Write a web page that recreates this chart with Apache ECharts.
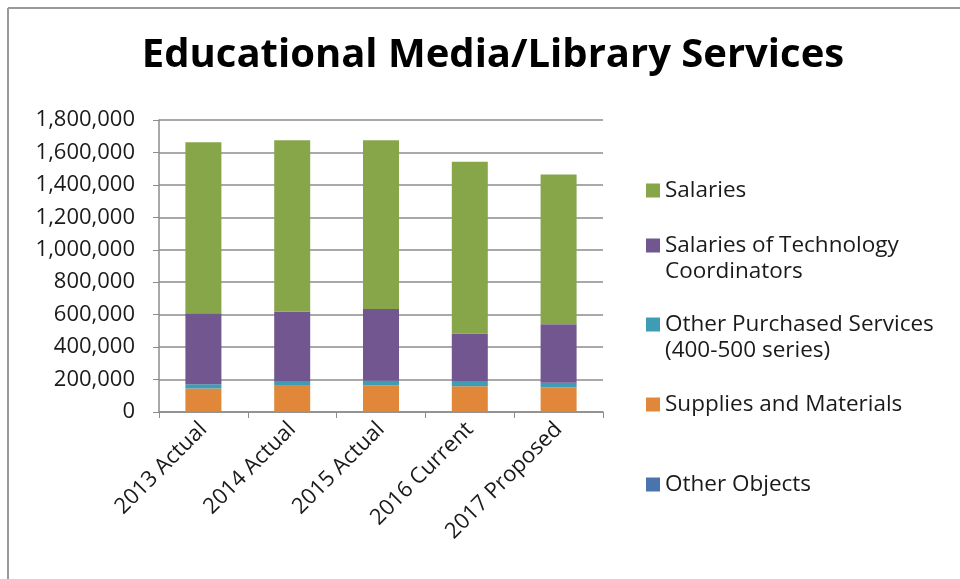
<!DOCTYPE html>
<html><head><meta charset="utf-8">
<script src="https://cdn.jsdelivr.net/npm/echarts@6/dist/echarts.min.js"></script>
<style>html,body{margin:0;padding:0;background:#fff}#c{width:960px;height:579px}</style>
</head><body><div id="c"></div>
<script>
const categories = ['2013 Actual','2014 Actual','2015 Actual','2016 Current','2017 Proposed'];
const otherObjects = [1500, 1500, 1500, 1500, 1500];
const supplies = [144000, 160000, 164000, 158000, 150000];
const otherPurchased = [26000, 25000, 27000, 31000, 29000];
const techCoord = [437000, 431000, 442000, 294000, 360000];
const salaries = [1055000, 1057000, 1040000, 1058000, 924000];
const yTicks = {min: 0, max: 1800000, interval: 200000};

const FONT = 'Open Sans';
const seriesDefs = [
  {name: 'Other Objects', data: otherObjects, color: '#4A74AD'},
  {name: 'Supplies and Materials', data: supplies, color: '#E0873A'},
  {name: 'Other Purchased Services (400-500 series)', data: otherPurchased, color: '#3F9CB5'},
  {name: 'Salaries of Technology Coordinators', data: techCoord, color: '#71568F'},
  {name: 'Salaries', data: salaries, color: '#87A64A'}
];
const legendFirst = {
  'Salaries': 'Salaries',
  'Salaries of Technology Coordinators': 'Salaries of Technology',
  'Other Purchased Services (400-500 series)': 'Other Purchased Services',
  'Supplies and Materials': 'Supplies and Materials',
  'Other Objects': 'Other Objects'
};
const legendTops = {'Salaries':187,'Salaries of Technology Coordinators':242,'Other Purchased Services (400-500 series)':321,'Supplies and Materials':401,'Other Objects':481};
const LFS = 22.5;
const legendText = {fontFamily: FONT, fontSize: LFS, color: '#1a1a1a'};

const chart = echarts.init(document.getElementById('c'), null, {renderer: 'canvas'});
const legends = Object.keys(legendTops).map(n => ({
  data: [n], left: 646, top: legendTops[n] - 8, itemWidth: 14, itemHeight: 14, itemGap: 0,
  icon: 'rect', formatter: () => legendFirst[n], textStyle: legendText, selectedMode: false, padding: 0
}));
chart.setOption({
  animation: false,
  title: {text: 'Educational Media/Library Services', left: 488, textAlign: 'center', top: 31,
    textStyle: {fontFamily: FONT, fontWeight: 'bold', fontSize: 40, color: '#000'}},
  legend: legends,
  grid: {left: 159, right: 357, top: 120, bottom: 167},
  xAxis: {type: 'category', data: categories,
    axisLine: {lineStyle: {color: '#8c8c8c', width: 1.5}},
    axisTick: {show: true, alignWithLabel: false, length: 6, lineStyle: {color: '#8c8c8c'}},
    axisLabel: {rotate: 45, interval: 0, fontFamily: FONT, fontSize: 22, color: '#1a1a1a', margin: 14}},
  yAxis: {type: 'value', min: yTicks.min, max: yTicks.max, interval: yTicks.interval,
    axisLine: {show: true, lineStyle: {color: '#8c8c8c', width: 1.5}},
    axisTick: {show: true, length: 6, lineStyle: {color: '#8c8c8c'}},
    splitLine: {lineStyle: {color: '#8c8c8c', width: 1.5}},
    axisLabel: {fontFamily: FONT, fontSize: 22, color: '#1a1a1a', margin: 24,
      formatter: v => v.toLocaleString('en-US')}},
  series: seriesDefs.map(s => ({name: s.name, type: 'bar', stack: 'total', data: s.data,
    barWidth: 36, itemStyle: {color: s.color}})),
  graphic: [
    {type: 'line', shape: {x1: 8, y1: 8, x2: 960, y2: 8}, style: {stroke: '#999', lineWidth: 2}},
    {type: 'line', shape: {x1: 8, y1: 8, x2: 8, y2: 579}, style: {stroke: '#999', lineWidth: 2}},
    {type: 'text', left: 665, top: 260, style: {text: 'Coordinators', font: LFS + 'px "Open Sans"', fill: '#1a1a1a'}},
    {type: 'text', left: 665, top: 339, style: {text: '(400-500 series)', font: LFS + 'px "Open Sans"', fill: '#1a1a1a'}}
  ]
});
</script></body></html>
